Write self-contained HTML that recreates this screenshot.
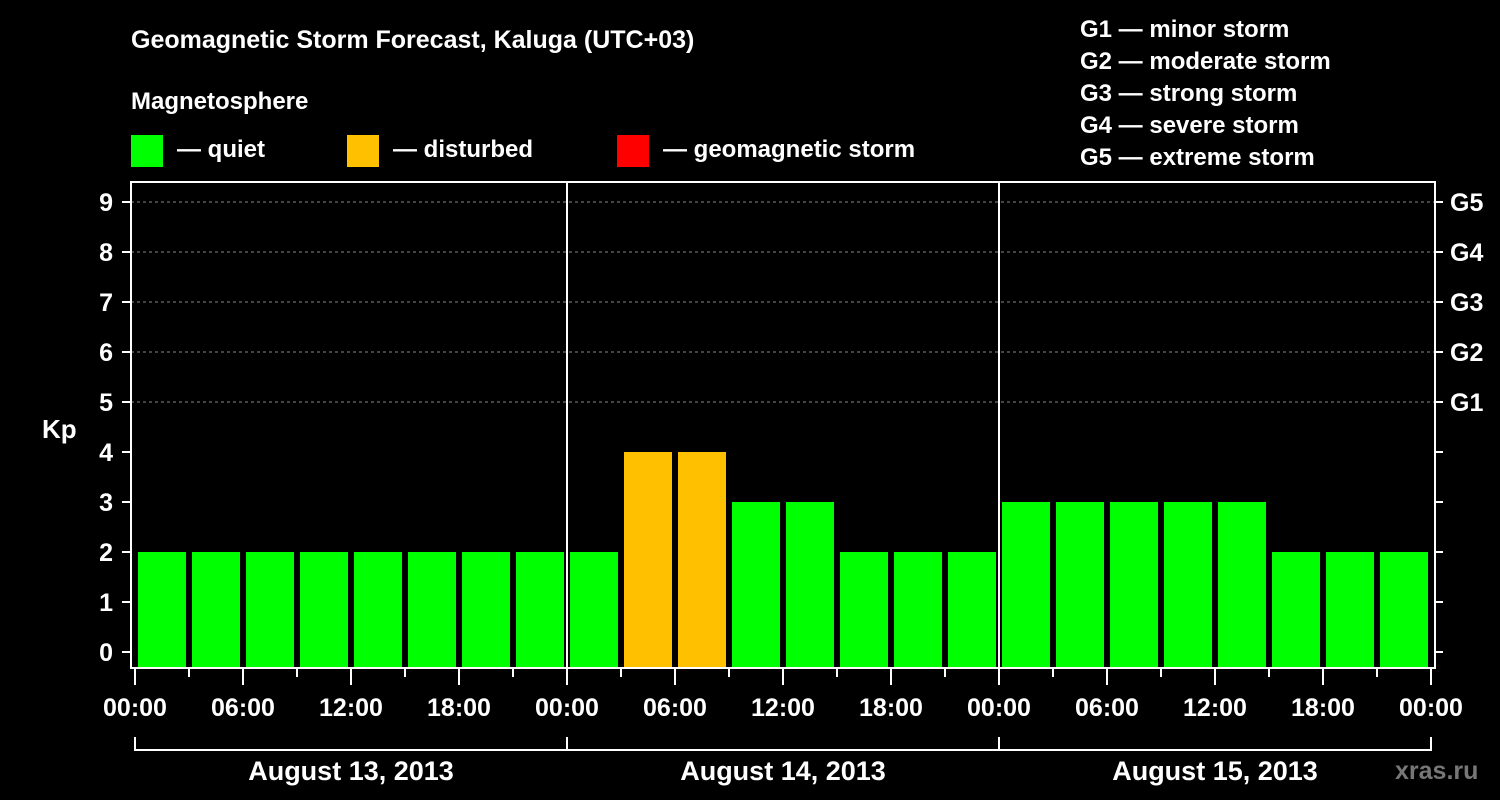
<!DOCTYPE html>
<html><head><meta charset="utf-8"><style>
body{margin:0;background:#000;width:1500px;height:800px;overflow:hidden}
svg{display:block;font-family:"Liberation Sans",Arial,sans-serif;font-weight:bold}
</style></head><body>
<svg id="c" width="1500" height="800">
<text x="131" y="48" fill="#fff" font-size="25">Geomagnetic Storm Forecast, Kaluga (UTC+03)</text>
<text x="131" y="109" fill="#fff" font-size="24">Magnetosphere</text>
<rect x="131" y="135" width="32" height="32" fill="#00ff00"/>
<text x="177" y="157" fill="#fff" font-size="24">— quiet</text>
<rect x="347" y="135" width="32" height="32" fill="#ffc000"/>
<text x="393" y="157" fill="#fff" font-size="24">— disturbed</text>
<rect x="617" y="135" width="32" height="32" fill="#ff0000"/>
<text x="663" y="157" fill="#fff" font-size="24">— geomagnetic storm</text>
<g fill="#fff" font-size="24">
<text x="1080" y="37">G1 — minor storm</text>
<text x="1080" y="69">G2 — moderate storm</text>
<text x="1080" y="101">G3 — strong storm</text>
<text x="1080" y="133">G4 — severe storm</text>
<text x="1080" y="165">G5 — extreme storm</text>
</g>
<text x="42" y="438" fill="#fff" font-size="26">Kp</text>
<text x="1395" y="779" fill="#777" font-size="25">xras.ru</text>
</svg>
<script>
const days=["August 13, 2013","August 14, 2013","August 15, 2013"];
const kpValues=[2,2,2,2,2,2,2,2, 2,4,4,3,3,2,2,2, 3,3,3,3,3,2,2,2];
const yTicks=[0,1,2,3,4,5,6,7,8,9];
const gLabels=["G1","G2","G3","G4","G5"];
const gLevels=[5,6,7,8,9];
const hourLabels=["00:00","06:00","12:00","18:00"];
const NS="http://www.w3.org/2000/svg";
const svg=document.getElementById('c');
const X0=135,SLOT=54,L=131,R=1435,T=182,B=668;
const y=v=>652-50*v;
const x=i=>X0+SLOT*i;
function mk(t,a,p){const e=document.createElementNS(NS,t);for(const k in a)e.setAttribute(k,a[k]);(p||svg).appendChild(e);return e;}
function col(v){return v>=5?'#ff0000':v>=4?'#ffc000':'#00ff00';}
// grid
yTicks.forEach(v=>{
 if(v>=5){const g=mk('line',{x1:L,x2:R,y1:y(v),y2:y(v),stroke:'#888','stroke-dasharray':'3,3'});
 
 }
 const t=mk('line',{x1:122,x2:L,y1:y(v),y2:y(v),stroke:'#fff','stroke-width':2});
 
 
 const rt=mk('line',{x1:R,x2:1443,y1:y(v),y2:y(v),stroke:'#fff','stroke-width':2});
 
 
 const l=mk('text',{x:113,y:y(v)+9,fill:'#fff','font-size':25,'text-anchor':'end'});
 l.textContent=v;
 
 
});
gLabels.forEach((g,i)=>{
 const l=mk('text',{x:1450,y:y(gLevels[i])+9,fill:'#fff','font-size':25});
 l.textContent=g;
 
 
});
// bars
kpValues.forEach((v,i)=>{
 const r=mk('rect',{x:x(i)+3,y:y(v),width:48,height:B-y(v),fill:col(v)});
 
 
});
// frame
const f=mk('rect',{x:L,y:T,width:R-L,height:B-T,fill:'none',stroke:'#fff','stroke-width':2});


// day separators
[1,2].forEach(d=>{
 const s=mk('line',{x1:x(d*8),x2:x(d*8),y1:T,y2:B,stroke:'#fff','stroke-width':2});
 
 
});
// x ticks
for(let i=0;i<=kpValues.length;i++){
 const major=i%2===0;
 const t=mk('line',{x1:x(i),x2:x(i),y1:B,y2:major?685:677,stroke:'#fff','stroke-width':2});
 
 
 if(major){
  const l=mk('text',{x:x(i),y:716,fill:'#fff','font-size':25,'text-anchor':'middle'});
  l.textContent=hourLabels[(i/2)%4];
  
  
 }
}
// day brackets
days.forEach((d,k)=>{
 const a=x(k*8),b=x(k*8+8);
 const p=mk('path',{d:`M${a} 737V750H${b}V737`,fill:'none',stroke:'#fff','stroke-width':2});
 
 
 const l=mk('text',{x:(a+b)/2,y:780,fill:'#fff','font-size':27,'text-anchor':'middle'});
 l.textContent=d;
 
 
});
</script>
</body></html>
